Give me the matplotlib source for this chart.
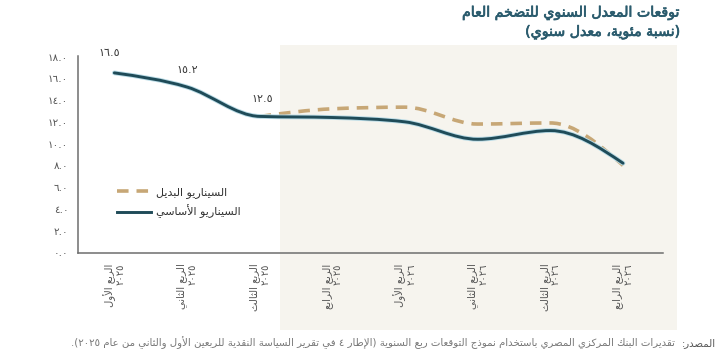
import re
import numpy as np
import matplotlib
matplotlib.use('Agg')
import matplotlib.pyplot as plt
from matplotlib.path import Path
from matplotlib.patches import PathPatch, Rectangle
from matplotlib.lines import Line2D
import matplotlib.patheffects as pe
import matplotlib.transforms as mtransforms
from matplotlib.ticker import FuncFormatter

# ---------------- data ----------------
quarters = ['الربع الأول', 'الربع الثاني', 'الربع الثالث', 'الربع الرابع',
            'الربع الأول', 'الربع الثاني', 'الربع الثالث', 'الربع الرابع']
years = ['٢٠٢٥', '٢٠٢٥', '٢٠٢٥', '٢٠٢٥', '٢٠٢٦', '٢٠٢٦', '٢٠٢٦', '٢٠٢٦']
baseline = [16.5, 15.2, 12.5, 12.4, 12.0, 10.4, 11.2, 8.2]
alt_start = 2
alternative = [12.5, 13.2, 13.35, 11.8, 11.9, 8.0]
labeled_idx = [0, 1, 2]
yticks = [0, 2, 4, 6, 8, 10, 12, 14, 16, 18]

title = 'توقعات المعدل السنوي للتضخم العام'
subtitle = '(نسبة مئوية، معدل سنوي)'
legend_alt = 'السيناريو البديل'
legend_base = 'السيناريو الأساسي'
source_head = 'المصدر:'
source_body = ('تقديرات البنك المركزي المصري باستخدام نموذج التوقعات ربع السنوية '
               '(الإطار ٤ في تقرير السياسة النقدية للربعين الأول والثاني من عام ٢٠٢٥).')

# ---------------- Arabic shaping helpers ----------------
_F = {}
for ch, base, n in [('ء', 0xFE80, 1), ('آ', 0xFE81, 2), ('أ', 0xFE83, 2), ('ؤ', 0xFE85, 2),
                    ('إ', 0xFE87, 2), ('ئ', 0xFE89, 4), ('ا', 0xFE8D, 2), ('ب', 0xFE8F, 4),
                    ('ة', 0xFE93, 2), ('ت', 0xFE95, 4), ('ث', 0xFE99, 4), ('ج', 0xFE9D, 4),
                    ('ح', 0xFEA1, 4), ('خ', 0xFEA5, 4), ('د', 0xFEA9, 2), ('ذ', 0xFEAB, 2),
                    ('ر', 0xFEAD, 2), ('ز', 0xFEAF, 2), ('س', 0xFEB1, 4), ('ش', 0xFEB5, 4),
                    ('ص', 0xFEB9, 4), ('ض', 0xFEBD, 4), ('ط', 0xFEC1, 4), ('ظ', 0xFEC5, 4),
                    ('ع', 0xFEC9, 4), ('غ', 0xFECD, 4), ('ف', 0xFED1, 4), ('ق', 0xFED5, 4),
                    ('ك', 0xFED9, 4), ('ل', 0xFEDD, 4), ('م', 0xFEE1, 4), ('ن', 0xFEE5, 4),
                    ('ه', 0xFEE9, 4), ('و', 0xFEED, 2), ('ى', 0xFEEF, 2), ('ي', 0xFEF1, 4)]:
    _F[ch] = tuple(chr(base + i) for i in range(n))
_LA = {'آ': ('\uFEF5', '\uFEF6'), 'أ': ('\uFEF7', '\uFEF8'),
       'إ': ('\uFEF9', '\uFEFA'), 'ا': ('\uFEFB', '\uFEFC')}
_MIRROR = {'(': ')', ')': '(', '[': ']', ']': '['}
_DIG = '0123456789٠١٢٣٤٥٦٧٨٩'


def _dual(c):
    return c in _F and len(_F[c]) == 4


def _joining(c):
    return c in _F and len(_F[c]) > 1


def shape(s):
    out, prev, i, n = [], None, 0, len(s)
    while i < n:
        c = s[i]
        if c not in _F:
            out.append(c)
            prev = None
            i += 1
            continue
        cp = prev is not None and _dual(prev) and _joining(c)
        if c == 'ل' and i + 1 < n and s[i + 1] in _LA:
            iso, fin = _LA[s[i + 1]]
            out.append(fin if cp else iso)
            prev = 'ا'
            i += 2
            continue
        nx = s[i + 1] if i + 1 < n else None
        cn = _dual(c) and nx is not None and _joining(nx)
        f = _F[c]
        if cp and cn:
            g = f[3]
        elif cp:
            g = f[1]
        elif cn:
            g = f[2]
        else:
            g = f[0]
        out.append(g)
        prev = c
        i += 1
    return ''.join(out)


def ar(s):
    sh = shape(s)
    runs = re.findall(r'[0-9٠-٩]+(?:[.٫][0-9٠-٩]+)*|[^0-9٠-٩]+', sh)
    res = []
    for r in reversed(runs):
        if r[0] in _DIG:
            res.append(r)
        else:
            res.append(''.join(_MIRROR.get(c, c) for c in reversed(r)))
    return ''.join(res)


_TR = str.maketrans('0123456789', '٠١٢٣٤٥٦٧٨٩')


def adig(v):
    return f'{v:.1f}'.translate(_TR)


# ---------------- smoothing (monotone cubic, drawn as Bezier path) ----------------
def smooth_path(xs, ys):
    xs = np.asarray(xs, float)
    ys = np.asarray(ys, float)
    n = len(xs)
    h = np.diff(xs)
    s = np.diff(ys) / h
    t = np.zeros(n)
    for i in range(1, n - 1):
        h0, h1 = h[i - 1], h[i]
        s0, s1 = s[i - 1], s[i]
        p = (s0 * h1 + s1 * h0) / (h0 + h1)
        t[i] = (np.sign(s0) + np.sign(s1)) * min(abs(s0), abs(s1), 0.5 * abs(p))
    t[0] = (3 * s[0] - t[1]) / 2 if n > 2 else s[0]
    t[-1] = (3 * s[-1] - t[-2]) / 2 if n > 2 else s[-1]
    verts = [(xs[0], ys[0])]
    codes = [Path.MOVETO]
    for i in range(n - 1):
        dx = xs[i + 1] - xs[i]
        verts += [(xs[i] + dx / 3, ys[i] + dx * t[i] / 3),
                  (xs[i + 1] - dx / 3, ys[i + 1] - dx * t[i + 1] / 3),
                  (xs[i + 1], ys[i + 1])]
        codes += [Path.CURVE4] * 3
    return Path(verts, codes)


# ---------------- figure ----------------
plt.rcParams['font.family'] = ['DejaVu Sans']
fig = plt.figure(figsize=(7.2, 3.57), dpi=100)
fig.patch.set_facecolor('white')
ax = fig.add_axes([78 / 720, 1 - 252.5 / 357, (663 - 78) / 720, (252.5 - 56) / 357])
ax.set_facecolor('none')

x = np.arange(len(quarters))
ax.set_xlim(-0.5, 7.55)
ax.set_ylim(0, 18.05)

# shaded forecast region
trans = mtransforms.blended_transform_factory(ax.transData, fig.transFigure)
ax.add_patch(Rectangle((2.28, 1 - 330 / 357), 7.74 - 2.28, (330 - 45) / 357,
                       transform=trans, facecolor='#f6f4ee', edgecolor='none',
                       clip_on=False, zorder=0))

BASE_C = '#1f4b58'
ALT_C = '#c7a776'

alt_x = x[alt_start:alt_start + len(alternative)]
ax.add_patch(PathPatch(smooth_path(alt_x, alternative), facecolor='none', edgecolor=ALT_C,
                       lw=2.6, linestyle=(0, (3.2, 2.2)), capstyle='butt', zorder=3))
ax.add_patch(PathPatch(smooth_path(x, baseline), facecolor='none', edgecolor=BASE_C,
                       lw=2.1, zorder=4, capstyle='round',
                       path_effects=[pe.Stroke(linewidth=3.4, foreground='#b9dbe6'), pe.Normal()]))

label_offsets = [(-4, 11), (0, 9), (2, 9)]
for k, i in enumerate(labeled_idx):
    ax.annotate(adig(baseline[i]), (x[i], baseline[i]), xytext=label_offsets[k],
                textcoords='offset points', ha='center', va='bottom',
                fontsize=8, color='#3a3a3a', zorder=5)

# axes styling
for sp in ['top', 'right']:
    ax.spines[sp].set_visible(False)
for sp in ['left', 'bottom']:
    ax.spines[sp].set_color('#6e6e6e')
    ax.spines[sp].set_linewidth(1.1)
ax.set_yticks(yticks)
ax.yaxis.set_major_formatter(FuncFormatter(lambda v, p: adig(v)))
ax.tick_params(axis='y', length=0, pad=7, labelsize=7.5, labelcolor='#555555')
ax.set_xticks(x)
ax.set_xticklabels([ar(q) + '\n' + y for q, y in zip(quarters, years)],
                   rotation=90, ha='center', va='top', multialignment='right',
                   linespacing=1.0)
ax.tick_params(axis='x', length=0, pad=8, labelsize=7.2, labelcolor='#555555')

# legend
handles = [Line2D([], [], color=ALT_C, lw=2.6, linestyle=(0, (3.2, 2.2))),
           Line2D([], [], color=BASE_C, lw=2.1)]
ax.legend(handles, [ar(legend_alt), ar(legend_base)], loc='upper left',
          bbox_to_anchor=(0.058, 0.36), frameon=False, fontsize=8, handlelength=3.0,
          handletextpad=0.5, labelspacing=0.55, borderpad=0, labelcolor='#333333')

# titles
TITLE_C = '#2a5b6d'
semi = [pe.withStroke(linewidth=0.5, foreground=TITLE_C)]
fig.text(680 / 720, 1 - 13 / 357, ar(title), ha='right', va='center', fontsize=10.2,
         color=TITLE_C, path_effects=semi)
fig.text(680 / 720, 1 - 32 / 357, ar(subtitle), ha='right', va='center', fontsize=10.2,
         color=TITLE_C, path_effects=semi)

# source note
t1 = fig.text(716 / 720, 1 - 343 / 357, ar(source_head), ha='right', va='center',
              fontsize=7.3, color='#555555')
ax.annotate(ar(source_body), xy=(0, 0.5), xycoords=t1, xytext=(-5, 0),
            textcoords='offset points', ha='right', va='center', fontsize=7.3,
            color='#777777', annotation_clip=False)

fig.savefig('out.png', dpi=100)
